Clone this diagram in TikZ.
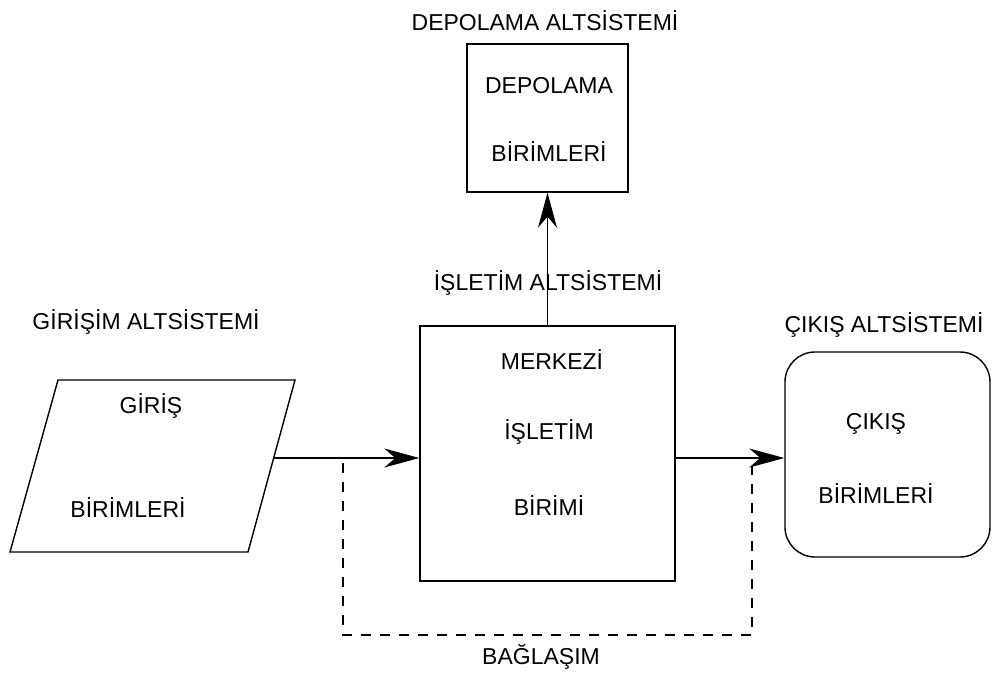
\documentclass[tikz,border=0pt]{standalone}
\usepackage{fontspec}
\setmainfont{Liberation Sans}
\usetikzlibrary{arrows.meta,calc}
\begin{document}
\begin{tikzpicture}[x=1pt,y=-1pt,
  line width=1.3pt,
  lbl/.style={inner sep=0pt,font=\fontsize{23}{26}\selectfont},
  unitbox/.style={draw,line width=1.4pt},
  flow/.style={-{Stealth[length=35pt,width=19pt,inset=11pt]}},
  link/.style={dashed,dash pattern=on 10pt off 9pt}]
\useasboundingbox (0,0) rectangle (994,677);

% storage subsystem
\node[lbl] (deplbl) at (545,21) {DEPOLAMA ALTSİSTEMİ};
\node[unitbox,minimum width=161pt,minimum height=148pt,inner sep=0pt] (dep) at (547.5,118) {};
\node[lbl] (dep1) at (549,86) {DEPOLAMA};
\node[lbl] (dep2) at (549,152) {BİRİMLERİ};

% central processing unit
\node[lbl] (cpulbl) at (548,283) {İŞLETİM ALTSİSTEMİ};
\node[unitbox,minimum width=255pt,minimum height=255pt,inner sep=0pt] (cpu) at (547.5,453.5) {};
\node[lbl] (cpu1) at (552,360) {MERKEZİ};
\node[lbl] (cpu2) at (549,432) {İŞLETİM};
\node[lbl] (cpu3) at (549,506) {BİRİMİ};

% input units (parallelogram)
\node[lbl] (inlbl) at (146,322) {GİRİŞİM ALTSİSTEMİ};
\coordinate (inTL) at (58,380);
\coordinate (inTR) at (295,380);
\coordinate (inBR) at (248,552);
\coordinate (inBL) at (10,552);
\draw[line width=1.4pt] (inTL) -- (inTR) -- (inBR) -- (inBL) -- cycle;
\node[lbl] (in1) at (151,406) {GİRİŞ};
\node[lbl] (in2) at (128,508) {BİRİMLERİ};
\coordinate (inOut) at (273.5,458);

% output units
\node[lbl] (outlbl) at (884,325) {ÇIKIŞ ALTSİSTEMİ};
\node[unitbox,rounded corners=30pt,minimum width=205pt,minimum height=205pt,inner sep=0pt] (out) at (887.5,454.5) {};
\node[lbl] (out1) at (876,424) {ÇIKIŞ};
\node[lbl] (out2) at (876,494) {BİRİMLERİ};

% data flow
\draw[flow] (inOut) -- (cpu.west |- inOut);
\draw[flow] (cpu.east |- inOut) -- (out.west |- inOut);
\draw[flow] (cpu.north) -- (dep.south);

% interconnection
\coordinate (bl) at (343,635);
\coordinate (br) at (752,635);
\draw[link] (343,463) -- (bl) -- (br) -- (752,466);
\node[lbl] (buslbl) at (541,657) {BAĞLAŞIM};
\end{tikzpicture}
\end{document}
